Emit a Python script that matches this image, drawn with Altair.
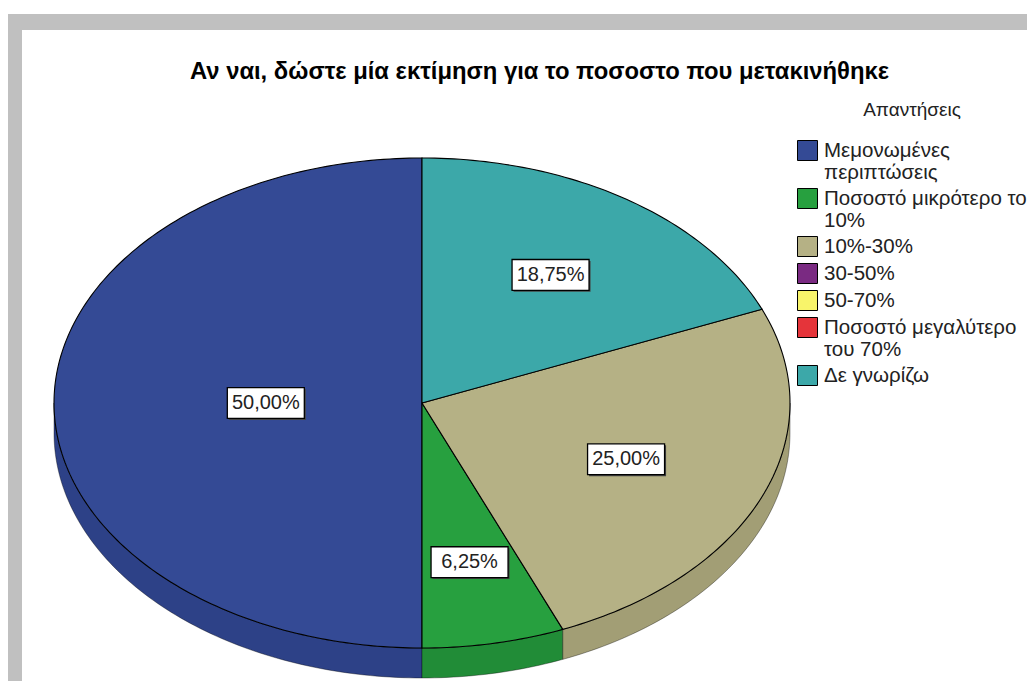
import math
import altair as alt
import pandas as pd

# ---- data ----
CATEGORIES = [
    "Μεμονωμένες|περιπτώσεις",
    "Ποσοστό μικρότερο το|10%",
    "10%-30%",
    "30-50%",
    "50-70%",
    "Ποσοστό μεγαλύτερο|του 70%",
    "Δε γνωρίζω",
]
VALUES = [50.0, 6.25, 25.0, 0.0, 0.0, 0.0, 18.75]
LABELS = ["50,00%", "6,25%", "25,00%", "0,00%", "0,00%", "0,00%", "18,75%"]

TITLE = "Αν ναι, δώστε μία εκτίμηση για το ποσοστο που μετακινήθηκε"
LEGEND_TITLE = "Απαντήσεις"

# ---- styles ----
TOP_COLORS = ["#344a95", "#27a03f", "#b5b185", "#7a2a82", "#f8f46a", "#e5343a", "#3ca8a9"]
SIDE_COLORS = ["#2d4187", "#218c37", "#a29e75", "#6a2470", "#dcd85c", "#c82d32", "#348f90"]
FONT = "Liberation Sans"

W, H = 1019, 675            # whole drawing area (page minus 8px margin)
CX, CY = 414, 395           # pie centre in view pixels
RX, RY = 368, 245           # pie radii in pixels
DEPTH = 30                  # thickness of the pie in pixels

xscale = alt.Scale(domain=[-CX / RX, (W - CX) / RX], nice=False, zero=False)
yscale = alt.Scale(domain=[-(H - CY) / RY, CY / RY], nice=False, zero=False)
d = DEPTH / RY

# ---- build geometry tables from the values ----
total = sum(VALUES)
top_rows, side_rows, lab_rows = [], [], []
start = 0.0
for cat, v, lab in zip(CATEGORIES, VALUES, LABELS):
    sweep = 360.0 * v / total
    end = start + sweep
    if v > 0:
        n = max(2, int(math.ceil(sweep)))
        angs = [start + (end - start) * i / n for i in range(n + 1)]
        pts = [(0.0, 0.0)] + [(-math.sin(math.radians(a)), math.cos(math.radians(a))) for a in angs] + [(0.0, 0.0)]
        for i, (px, py) in enumerate(pts):
            top_rows.append({"cat": cat, "pid": cat, "i": i, "x": px, "y": py})
        s, e = max(start, 90.0), min(end, 270.0)
        if e > s:
            m = max(2, int(math.ceil(e - s)))
            sa = [s + (e - s) * i / m for i in range(m + 1)]
            upper = [(-math.sin(math.radians(a)), math.cos(math.radians(a))) for a in sa]
            lower = [(px, py - d) for px, py in reversed(upper)]
            spts = upper + lower + [upper[0]]
            for i, (px, py) in enumerate(spts):
                side_rows.append({"cat": cat, "pid": cat, "i": i, "x": px, "y": py})
        th = math.radians(sweep)
        r = 4 * math.sin(th / 2) / (3 * th)
        mid = math.radians(start + sweep / 2)
        lab_rows.append({"cat": cat, "label": lab, "x": -r * math.sin(mid), "y": r * math.cos(mid)})
    start = end

top_df = pd.DataFrame(top_rows)
side_df = pd.DataFrame(side_rows)
lab_df = pd.DataFrame(lab_rows)

X = alt.X("x:Q", scale=xscale, axis=None)
Y = alt.Y("y:Q", scale=yscale, axis=None)

side = alt.Chart(side_df).mark_line(
    filled=True, stroke="black", strokeWidth=0.8, strokeOpacity=0.45, interpolate="linear"
).encode(
    x=X, y=Y, detail="pid:N", order="i:Q",
    color=alt.Color("cat:N", scale=alt.Scale(domain=CATEGORIES, range=SIDE_COLORS), legend=None),
)

top = alt.Chart(top_df).mark_line(
    filled=True, stroke="black", strokeWidth=1.1, interpolate="linear"
).encode(
    x=X, y=Y, detail="pid:N", order="i:Q",
    color=alt.Color(
        "cat:N",
        scale=alt.Scale(domain=CATEGORIES, range=TOP_COLORS),
        legend=alt.Legend(
            title=LEGEND_TITLE, orient="none", legendX=789, legendY=93,
            symbolType="square", symbolSize=400, symbolStrokeColor="black",
            symbolStrokeWidth=1, symbolOpacity=1,
            labelFont=FONT, labelFontSize=20.5, labelColor="#222", labelLimit=320,
            labelExpr="split(datum.label, '|')", labelOffset=6,
            titleFont=FONT, titleFontSize=19, titleFontWeight="normal", titleColor="#222",
            titleAnchor="middle", titlePadding=20, rowPadding=2, padding=0,
        ),
    ),
)

BOX = "M-1,-0.4H1V0.4H-1Z"
shadow = alt.Chart(lab_df).mark_point(
    shape=BOX, size=77 * 77, filled=True, fill="#444", opacity=1, xOffset=1.5, yOffset=1.5
).encode(x=X, y=Y)
box = alt.Chart(lab_df).mark_point(
    shape=BOX, size=77 * 77, filled=True, fill="white", opacity=1, stroke="black", strokeWidth=1.3
).encode(x=X, y=Y)
text = alt.Chart(lab_df).mark_text(
    font=FONT, fontSize=20, color="#222", baseline="middle", align="center"
).encode(x=X, y=Y, text="label:N")

one = pd.DataFrame({"k": [0]})
frame_top = alt.Chart(one).mark_rect(color="#c0c0c0").encode(
    x=alt.value(0), x2=alt.value(W), y=alt.value(6), y2=alt.value(22)
)
frame_left = alt.Chart(one).mark_rect(color="#c0c0c0").encode(
    x=alt.value(0), x2=alt.value(14), y=alt.value(6), y2=alt.value(673)
)

chart = alt.layer(frame_top, frame_left, side, top, shadow, box, text).resolve_scale(
    color="independent"
).properties(
    width=W, height=H, padding=0,
    autosize=alt.AutoSizeParams(type="none"),
    title=alt.TitleParams(
        TITLE, font=FONT, fontSize=23.8, fontWeight="bold", color="black",
        anchor="middle", dx=22, dy=80,
    ),
    background="white",
).configure_view(strokeWidth=0)

chart.save("out.html", embed_options={"renderer": "svg", "actions": False})
